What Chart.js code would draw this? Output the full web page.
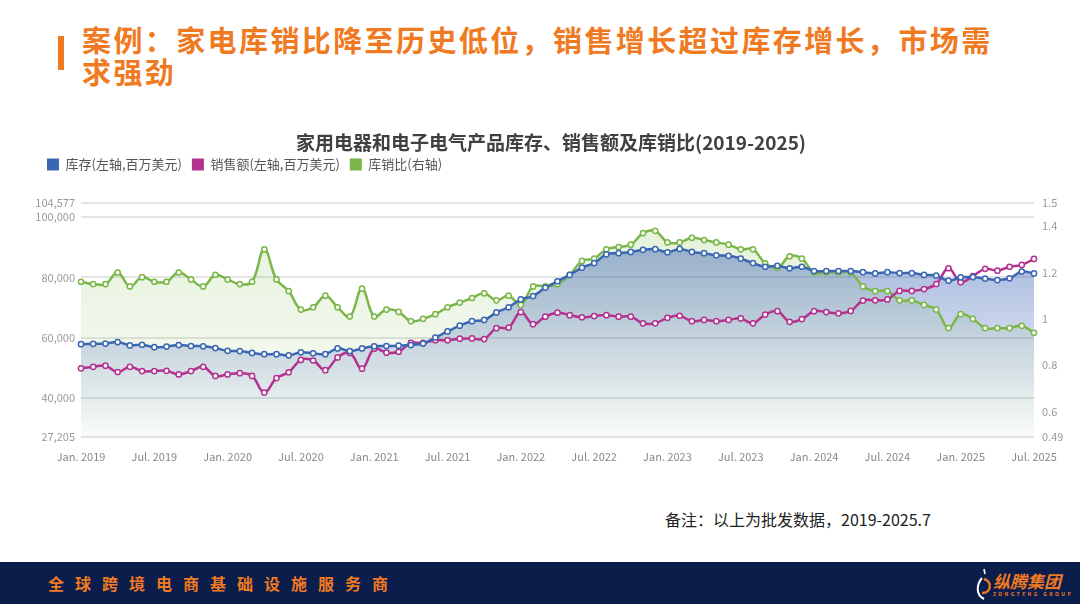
<!DOCTYPE html>
<html>
<head>
<meta charset="utf-8">
<script src="https://cdn.jsdelivr.net/npm/chart.js@4.4.1/dist/chart.umd.min.js"></script>
<style>
  html, body { margin: 0; padding: 0; background: #fff; }
  body { width: 1080px; height: 604px; position: relative; overflow: hidden; font-family: "Noto Sans CJK SC", "Noto Sans", sans-serif; }
  .bar { position: absolute; left: 58px; top: 36px; width: 6px; height: 34px; background: #f07a22; }
  .headline { position: absolute; left: 82px; top: 23px; width: 990px; font-size: 29px; font-weight: bold; line-height: 32px; color: #f07a22; letter-spacing: 2.4px; }
  .chart-title { position: absolute; left: 0; width: 1102px; top: 129px; text-align: center; font-size: 19px; font-weight: bold; color: #404040; line-height: 26px; }
  #wrap { position: absolute; left: 0; top: 120px; width: 1080px; height: 350px; }
  .note { position: absolute; left: 665px; top: 507px; font-size: 16px; color: #222; }
  .footer { position: absolute; left: 0; top: 562px; width: 1080px; height: 42px; background: #0b1d4b; }
  .slogan { position: absolute; left: 48px; top: 11px; font-size: 16px; font-weight: bold; color: #f07a22; letter-spacing: 11px; line-height: 20px; }
  .logo { position: absolute; left: 993px; top: 9px; font-size: 17px; font-weight: bold; font-style: italic; color: #f07a22; line-height: 20px; }
  .logo small { display: block; font-size: 5px; letter-spacing: 2.4px; line-height: 6px; font-style: normal; }
  .swoosh { position: absolute; left: 972px; top: 3px; }
</style>
</head>
<body>
<div class="bar"></div>
<div class="headline">案例：家电库销比降至历史低位，销售增长超过库存增长，市场需<br>求强劲</div>
<div id="wrap"><canvas id="myChart"></canvas></div>
<div class="chart-title">家用电器和电子电气产品库存、销售额及库销比(2019-2025)</div>
<div class="note">备注：以上为批发数据，2019-2025.7</div>
<div class="footer">
  <div class="slogan">全球跨境电商基础设施服务商</div>
  <svg class="swoosh" width="22" height="38" viewBox="0 0 22 38">
    <path d="M12 4 L13 9" stroke="#fff" stroke-width="1.6" fill="none"/>
    <path d="M10 13 C4 20 4 30 12 34" stroke="#fff" stroke-width="2" fill="none"/>
    <path d="M12 14 C20 16 20 28 10 28" stroke="#f07a22" stroke-width="2.4" fill="none"/>
  </svg>
  <div class="logo">纵腾集团<small>ZONGTENG GROUP</small></div>
</div>
<script>
const years = [2019, 2020, 2021, 2022, 2023, 2024, 2025];
const monthNames = ['Jan.', 'Feb.', 'Mar.', 'Apr.', 'May', 'Jun.', 'Jul.', 'Aug.', 'Sep.', 'Oct.', 'Nov.', 'Dec.'];

// inventory, millions USD (left axis)
const inventory = [
  57900, 58000, 58100, 58600, 57500, 57700, 56900, 57100, 57600, 57300, 57200, 56600,
  55700, 55600, 55000, 54600, 54600, 54200, 55200, 54900, 54600, 56500, 55600, 56500,
  57200, 57300, 57400, 57600, 58100, 60100, 62100, 64000, 65500, 65900, 68400, 70100,
  72700, 73800, 76600, 78700, 80800, 83200, 84700, 87600, 88000, 88400, 89100, 89300,
  88300, 89400, 88400, 88000, 87300, 87100, 86200, 84700, 83500, 83800, 83000, 83500,
  82100, 82100, 82100, 82100, 81700, 81300, 81700, 81400, 81400, 80800, 80600, 78900,
  80000, 80100, 79600, 79100, 79700, 81900, 81300
];

// sales, millions USD (left axis)
const sales = [
  49900, 50400, 50800, 48700, 50400, 49000, 49000, 49100, 47900, 49000, 50400, 47400,
  47900, 48300, 47400, 41900, 46700, 48600, 52700, 52500, 49300, 53500, 55000, 49800,
  56400, 55100, 55400, 58300, 58300, 59200, 59200, 59700, 59800, 59600, 63200, 63400,
  68500, 64500, 67000, 68300, 67500, 66800, 67200, 67500, 67000, 67000, 64800, 64800,
  66600, 67300, 65500, 65900, 65500, 65900, 66400, 64800, 67700, 68800, 65300, 66200,
  68800, 68500, 68100, 68900, 72300, 72400, 72700, 75500, 75500, 76100, 77800, 83000,
  78400, 80400, 82800, 82200, 83500, 84100, 86100
];

// inventory / sales ratio (right axis)
const ratio = [
  1.16, 1.15, 1.15, 1.20, 1.14, 1.18, 1.16, 1.16, 1.20, 1.17, 1.14, 1.19,
  1.17, 1.15, 1.16, 1.30, 1.17, 1.12, 1.04, 1.05, 1.10, 1.05, 1.01, 1.13,
  1.01, 1.04, 1.03, 0.99, 1.00, 1.02, 1.05, 1.07, 1.09, 1.11, 1.08, 1.10,
  1.06, 1.14, 1.14, 1.15, 1.19, 1.25, 1.26, 1.30, 1.31, 1.32, 1.37, 1.38,
  1.33, 1.33, 1.35, 1.34, 1.33, 1.32, 1.30, 1.30, 1.24, 1.22, 1.27, 1.26,
  1.20, 1.20, 1.20, 1.20, 1.14, 1.12, 1.12, 1.08, 1.08, 1.06, 1.04, 0.96,
  1.02, 1.00, 0.96, 0.96, 0.96, 0.97, 0.94
];

const leftTicks = [27205, 40000, 60000, 80000, 100000, 104577];
const rightTicks = [0.49, 0.6, 0.8, 1, 1.2, 1.4, 1.5];

const labels = [];
years.forEach(y => monthNames.forEach(m => {
  if (labels.length < inventory.length) labels.push(m + ' ' + y);
}));

const FONT = '"Noto Sans CJK SC", "Noto Sans", sans-serif';

function blueFill(ctx) {
  const area = ctx.chart.chartArea;
  if (!area) return 'rgba(60,100,180,0.3)';
  const g = ctx.chart.ctx.createLinearGradient(0, area.top + 40, 0, area.bottom);
  g.addColorStop(0, 'rgba(60,100,180,0.48)');
  g.addColorStop(1, 'rgba(60,100,180,0.0)');
  return g;
}

function greenFill(ctx) {
  const area = ctx.chart.chartArea;
  if (!area) return 'rgba(130,190,80,0.18)';
  const g = ctx.chart.ctx.createLinearGradient(0, area.top, 0, area.bottom);
  g.addColorStop(0, 'rgba(130,190,80,0.22)');
  g.addColorStop(1, 'rgba(130,190,80,0.04)');
  return g;
}

const lineStyle = {
  borderWidth: 2.5,
  pointRadius: 2.6,
  pointBorderWidth: 1.5,
  pointBackgroundColor: '#fff',
  tension: 0.4
};

const data = {
  labels: labels,
  datasets: [{
    ...lineStyle,
    label: '库存(左轴,百万美元)',
    data: inventory,
    yAxisID: 'yL',
    borderColor: '#3a66b3',
    pointBorderColor: '#3a66b3',
    backgroundColor: blueFill,
    fill: 'origin'
  }, {
    ...lineStyle,
    label: '销售额(左轴,百万美元)',
    data: sales,
    yAxisID: 'yL',
    borderColor: '#b3318f',
    pointBorderColor: '#b3318f',
    backgroundColor: '#b3318f',
    fill: false
  }, {
    ...lineStyle,
    label: '库销比(右轴)',
    data: ratio,
    yAxisID: 'yR',
    borderColor: '#7ab648',
    pointBorderColor: '#7ab648',
    backgroundColor: greenFill,
    fill: 'origin'
  }]
};

// legend sits a bit right of the canvas edge, with room below it
const legendTweak = {
  id: 'legendTweak',
  beforeInit(chart) {
    const legend = chart.legend;
    const fit = legend.fit;
    legend.fit = function () {
      fit.call(this);
      this.height += 22;
    };
    const draw = legend.draw;
    legend.draw = function () {
      const ctx = this.ctx;
      ctx.save();
      ctx.translate(37, 0);
      draw.call(this);
      ctx.restore();
    };
  }
};

const config = {
  type: 'line',
  data: data,
  plugins: [legendTweak],
  options: {
    responsive: true,
    maintainAspectRatio: false,
    animation: false,
    layout: { padding: { left: 0, right: 6, top: 28, bottom: 9 } },
    plugins: {
      filler: { drawTime: 'beforeDatasetsDraw' },
      tooltip: { enabled: false },
      title: { display: false },
      legend: {
        display: true,
        align: 'start',
        labels: {
          color: '#555',
          font: { family: FONT, size: 13 },
          boxWidth: 12,
          boxHeight: 12,
          padding: 10,
          generateLabels(chart) {
            return chart.data.datasets.map((ds, i) => ({
              text: ds.label,
              fillStyle: ds.borderColor,
              strokeStyle: ds.borderColor,
              lineWidth: 0,
              fontColor: '#555',
              datasetIndex: i
            }));
          }
        }
      }
    },
    scales: {
      x: {
        grid: { display: false },
        border: { display: false },
        ticks: {
          autoSkip: false,
          maxRotation: 0,
          padding: 5,
          color: '#888',
          font: { family: FONT, size: 11 },
          callback: (v, i) => (i % 6 === 0 ? labels[i] : null)
        },
        afterFit: s => { s.height = 24; }
      },
      yL: {
        position: 'left',
        min: 27205,
        max: 104577,
        afterBuildTicks: s => { s.ticks = leftTicks.map(v => ({ value: v })); },
        ticks: {
          padding: 6,
          color: '#999',
          font: { family: FONT, size: 11 },
          callback: v => v.toLocaleString('en-US')
        },
        grid: { color: '#e4e4e4', lineWidth: 2, drawTicks: false },
        border: { display: false },
        afterFit: s => { s.width = 81; }
      },
      yR: {
        position: 'right',
        min: 0.49,
        max: 1.5,
        afterBuildTicks: s => { s.ticks = rightTicks.map(v => ({ value: v })); },
        ticks: {
          padding: 8,
          color: '#999',
          font: { family: FONT, size: 11 },
          callback: v => String(v)
        },
        grid: { display: false, drawTicks: false },
        border: { display: false },
        afterFit: s => { s.width = 40; }
      }
    }
  }
};

const myChart = new Chart(document.getElementById('myChart'), config);
</script>
</body>
</html>
